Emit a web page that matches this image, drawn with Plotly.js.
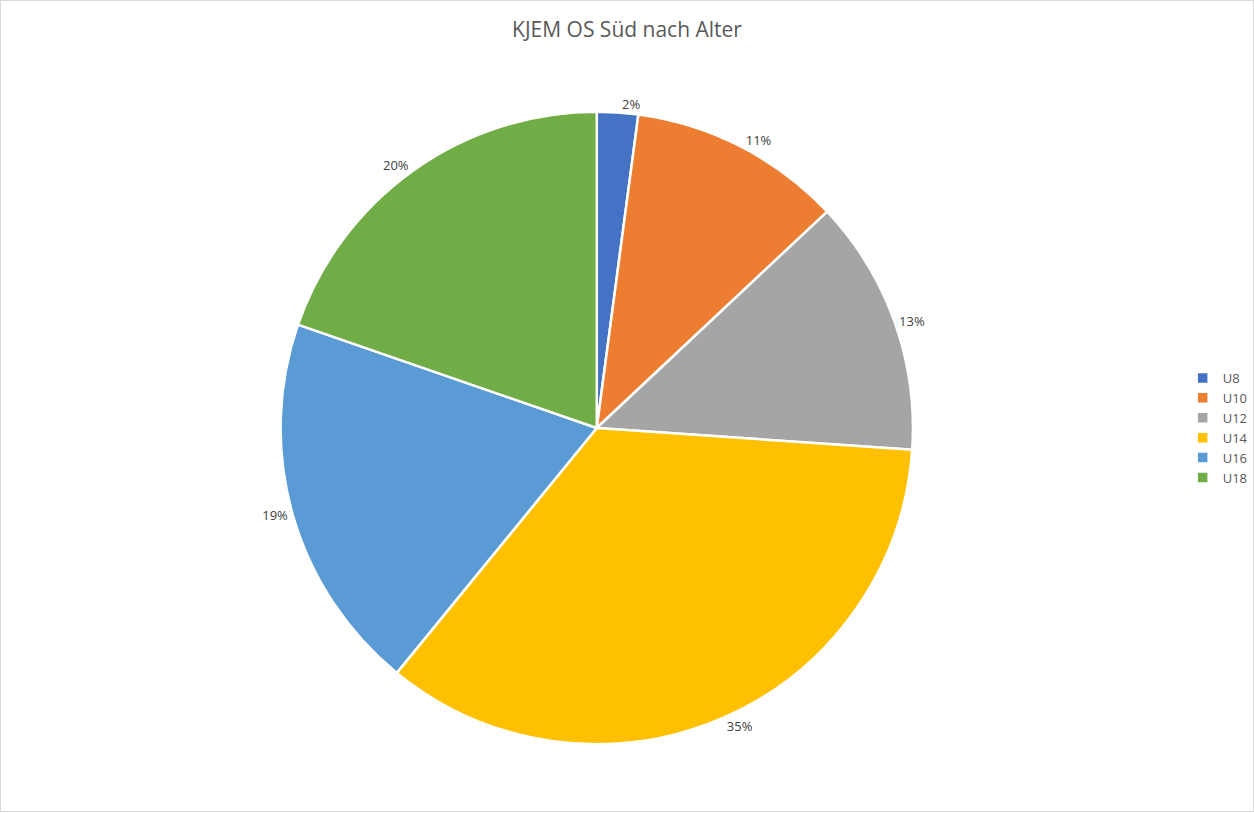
<!DOCTYPE html>
<html>
<head>
<meta charset="utf-8">
<script src="https://cdn.plot.ly/plotly-3.0.1.min.js"></script>
<style>
html,body{margin:0;padding:0;background:#fff;}
#chart{width:1252px;height:810px;border:1px solid #d9d9d9;}
</style>
</head>
<body>
<div id="chart"></div>
<script>
const categories = ["U8", "U10", "U12", "U14", "U16", "U18"];
const shares = [2.1, 10.9, 13.1, 34.8, 19.4, 19.7];
const colors = ["#4472C4", "#ED7D31", "#A5A5A5", "#FFC000", "#5B9BD5", "#70AD47"];
const chartTitle = "KJEM OS Süd nach Alter";

const W = 1252, H = 810;
const cx = 603, cy = 427, r = 320;

const trace = {
  type: "pie",
  labels: categories,
  values: shares,
  sort: false,
  direction: "clockwise",
  rotation: 0,
  marker: {colors: colors, line: {color: "#ffffff", width: 2.5}},
  textposition: "outside",
  texttemplate: "%{percent:.0%}",
  outsidetextfont: {family: "Open Sans, Liberation Sans, sans-serif", size: 13, color: "#404040"},
  hoverinfo: "label+percent",
  domain: {x: [(cx - r) / W, (cx + r) / W], y: [1 - (cy + r) / H, 1 - (cy - r) / H]}
};

const layout = {
  width: W, height: H,
  margin: {l: 0, r: 0, t: 0, b: 0},
  paper_bgcolor: "#ffffff",
  title: {text: chartTitle, x: 0.5, xanchor: "center", y: 1 - 29 / H, yanchor: "middle",
          font: {family: "Open Sans, Liberation Sans, sans-serif", size: 21, color: "#595959"}},
  showlegend: true,
  legend: {x: 1196 / W, xanchor: "left", y: 1 - 427 / H, yanchor: "middle",
           font: {family: "Open Sans, Liberation Sans, sans-serif", size: 13, color: "#595959"},
           itemwidth: 30, tracegroupgap: 0}
};

Plotly.newPlot("chart", [trace], layout, {displayModeBar: false, staticPlot: true});
</script>
</body>
</html>
